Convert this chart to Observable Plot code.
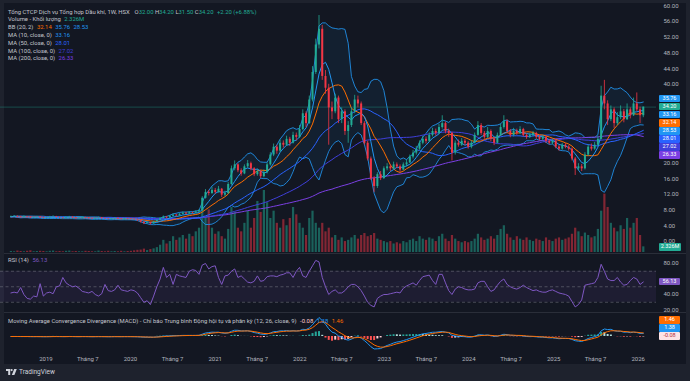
<!DOCTYPE html>
<html><head><meta charset="utf-8">
<script src="https://cdn.jsdelivr.net/npm/d3@7"></script>
<script src="https://cdn.jsdelivr.net/npm/@observablehq/plot@0.6"></script>
<style>
html,body{margin:0;padding:0;background:#1e222d;width:690px;height:381px;overflow:hidden}
#wrap{position:relative;width:690px;height:381px;font-family:Roboto,"DejaVu Sans",sans-serif}
#frame{position:absolute;left:4px;top:3px;width:682px;height:361px;background:#131722}
.layer{position:absolute;left:0}
.layer svg{display:block;overflow:visible}
.lg{position:absolute;left:8px;font-size:5.9px;line-height:8px;height:8px;color:#c3c6ce;white-space:nowrap}
.lg .v{margin-left:3.5px}
.box{position:absolute;left:659px;width:21px;height:7.6px;font-size:5.5px;line-height:7.6px;text-align:center;color:#fff;border-radius:1px}
.sep{position:absolute;left:4px;width:682px;height:1px;background:#2a2e39}
#foot{position:absolute;left:6px;top:368px;font-size:6.5px;color:#d1d4dc;display:flex;align-items:center;gap:2px}
</style></head>
<body><div id="wrap"><div id="frame"></div></div>
<script>
// ---------- data (biweekly candles) ----------
const startDate = "2018-08-03";
const stepDays = 14;
const closes = [6.3,6.4,6.2,6.1,6.3,6.2,6.0,6.1,6.2,6.0,
5.9,6.0,6.2,6.3,6.1,6.0,5.9,6.1,6.2,6.0,
5.8,5.9,6.1,6.0,5.8,5.7,5.9,6.0,5.8,5.7,
5.6,5.8,5.9,5.7,5.6,5.8,5.7,5.6,5.5,5.3,
4.9,4.6,4.8,4.5,5.0,5.4,5.8,6.2,6.0,6.4,
6.7,6.5,6.9,7.2,7.0,7.3,7.2,7.5,7.8,11.0,
12.5,12.2,13.0,12.5,13.3,11.8,12.2,14.5,18.5,19.5,
18.0,17.2,19.0,19.8,18.5,17.0,17.8,16.5,17.5,19.5,
22.0,24.0,23.0,25.0,24.5,26.0,25.0,27.0,26.5,28.5,
32.5,30.0,36.0,43.0,50.0,54.0,42.0,39.0,34.0,33.0,
36.5,31.0,33.0,28.0,29.5,33.0,36.0,35.0,30.0,25.0,
21.0,16.0,14.0,17.0,16.0,18.5,19.0,18.5,19.5,19.0,
18.2,19.5,20.0,21.5,22.5,23.5,25.0,26.0,25.5,27.0,
28.0,27.5,29.0,30.0,28.0,27.5,22.5,25.0,24.5,25.5,
25.0,24.0,25.0,27.0,29.5,27.5,26.5,28.0,26.0,25.0,
27.0,29.0,30.5,28.0,27.0,28.0,27.5,28.5,27.0,26.5,
27.0,27.5,26.5,26.0,26.5,25.5,25.0,25.5,24.0,23.5,
24.5,24.0,23.5,21.0,18.5,19.0,18.5,22.0,24.0,23.5,
24.5,26.0,37.0,35.0,31.0,33.5,30.0,31.5,33.0,31.0,
33.5,32.0,35.0,33.5,32.0,34.2];
const opens = [6.2,6.3,6.4,6.2,6.1,6.3,6.2,6.0,6.1,6.2,
6.0,5.9,6.0,6.2,6.3,6.1,6.0,5.9,6.1,6.2,
6.0,5.8,5.9,6.1,6.0,5.8,5.7,5.9,6.0,5.8,
5.7,5.6,5.8,5.9,5.7,5.6,5.8,5.7,5.6,5.5,
5.3,4.9,4.6,4.8,4.5,5.0,5.4,5.8,6.2,6.0,
6.4,6.7,6.5,6.9,7.2,7.0,7.3,7.2,7.5,7.8,
11.0,12.5,12.2,13.0,12.5,13.3,11.8,12.2,14.5,18.5,
19.5,18.0,17.2,19.0,19.8,18.5,17.0,17.8,16.5,17.5,
19.5,22.0,24.0,23.0,25.0,24.5,26.0,25.0,27.0,26.5,
28.5,32.5,30.0,36.0,43.0,50.0,54.0,42.0,39.0,34.0,
33.0,36.5,31.0,33.0,28.0,29.5,33.0,36.0,35.0,30.0,
25.0,21.0,16.0,14.0,17.0,16.0,18.5,19.0,18.5,19.5,
19.0,18.2,19.5,20.0,21.5,22.5,23.5,25.0,26.0,25.5,
27.0,28.0,27.5,29.0,30.0,28.0,27.5,22.5,25.0,24.5,
25.5,25.0,24.0,25.0,27.0,29.5,27.5,26.5,28.0,26.0,
25.0,27.0,29.0,30.5,28.0,27.0,28.0,27.5,28.5,27.0,
26.5,27.0,27.5,26.5,26.0,26.5,25.5,25.0,25.5,24.0,
23.5,24.5,24.0,23.5,21.0,18.5,19.0,18.5,22.0,24.0,
23.5,24.5,26.0,37.0,35.0,31.0,33.5,30.0,31.5,33.0,
31.0,33.5,32.0,35.0,33.5,32.0];
const highs = [6.5,6.6,6.5,6.4,6.5,6.4,6.3,6.3,6.4,6.3,
6.1,6.2,6.4,6.5,6.4,6.2,6.1,6.3,6.4,6.3,
6.1,6.0,6.3,6.2,6.1,5.9,6.0,6.2,6.1,5.9,
5.8,5.9,6.1,6.0,5.8,5.9,5.9,5.8,5.7,5.6,
5.4,5.0,5.0,4.9,5.1,5.6,6.0,6.5,6.4,6.6,
7.0,6.9,7.1,7.5,7.4,7.6,7.5,7.8,8.1,11.4,
13.2,13.0,13.8,13.5,14.0,13.5,12.8,15.0,19.2,20.5,
19.8,18.5,19.5,20.6,20.2,18.8,18.4,18.0,18.2,20.0,
22.6,24.8,24.5,25.8,25.6,26.8,26.5,27.8,27.6,29.5,
33.5,33.0,37.0,44.5,51.5,57.5,55.0,43.5,40.0,35.5,
37.5,37.0,34.0,33.5,30.5,34.0,37.2,37.0,35.5,30.5,
25.5,21.5,16.5,17.5,17.8,19.0,19.8,19.5,20.2,20.0,
19.5,20.0,20.8,22.0,23.2,24.2,25.6,26.8,26.6,27.6,
28.8,28.6,29.8,32.0,30.4,28.6,27.8,25.6,25.8,26.2,
26.0,25.4,25.6,27.6,30.5,30.0,28.0,29.0,28.4,26.4,
27.6,29.8,32.0,31.0,28.5,28.8,28.6,29.2,28.8,27.4,
27.6,28.0,27.8,26.9,27.0,26.8,25.9,26.0,25.8,24.4,
25.0,24.9,24.4,23.8,21.4,19.8,19.6,22.6,24.6,24.8,
25.2,26.8,39.5,41.0,35.8,34.5,34.0,32.8,34.5,33.6,
35.0,34.0,36.5,37.8,34.2,34.2];
const lows = [6.1,6.2,6.1,6.0,6.0,6.0,5.9,5.9,6.0,5.9,
5.8,5.8,5.9,6.1,6.0,5.9,5.8,5.8,6.0,5.9,
5.7,5.7,5.8,5.9,5.7,5.6,5.6,5.8,5.7,5.6,
5.5,5.5,5.7,5.6,5.5,5.5,5.6,5.5,5.4,5.1,
4.7,4.3,4.5,4.2,4.4,4.9,5.3,5.7,5.8,5.9,
6.3,6.3,6.4,6.8,6.8,6.9,7.0,7.1,7.4,7.7,
10.8,11.6,12.0,12.0,12.3,11.2,11.4,12.0,14.3,18.0,
17.5,16.6,17.0,18.6,18.0,16.5,16.6,16.0,16.2,17.2,
19.2,21.6,22.2,22.6,23.8,24.2,24.2,24.8,25.6,26.2,
28.2,29.0,29.8,35.5,42.5,49.0,41.0,37.5,24.5,31.0,
32.5,30.0,30.0,27.0,25.0,29.0,32.5,34.0,29.5,24.5,
20.5,15.5,12.5,13.5,15.5,15.8,18.0,17.8,18.2,18.5,
17.6,18.0,19.0,19.8,21.0,22.0,23.2,24.6,24.8,25.2,
26.6,26.8,27.2,28.6,27.4,26.5,20.5,22.0,24.0,24.2,
24.4,23.5,23.6,24.8,26.8,27.0,26.0,26.2,25.4,24.4,
24.8,26.8,28.6,27.5,26.4,26.6,27.0,27.2,26.6,26.0,
26.2,26.6,26.0,25.6,25.6,25.0,24.6,24.6,23.6,23.0,
23.2,23.6,23.0,20.5,16.8,18.0,17.8,18.2,21.6,23.0,
23.2,24.2,25.8,33.5,29.5,30.5,28.8,29.5,31.0,30.2,
30.8,31.2,31.8,33.0,30.0,31.5];
const volumes = [0.4,0.3,0.6,0.4,0.3,0.5,0.7,0.3,0.4,0.5,
0.4,0.3,0.5,0.6,0.3,0.4,0.3,0.5,0.6,0.3,
0.4,0.3,0.3,0.5,0.4,0.3,0.3,0.6,0.4,0.3,
0.5,0.3,0.4,0.3,0.5,0.3,0.4,0.5,0.7,0.9,
1.0,1.4,0.8,1.2,1.5,2.0,3.0,5.0,3.5,4.5,
6.5,5.0,6.0,7.0,5.5,7.5,6.5,8.5,10.0,18.5,
14.5,17.5,10.0,7.5,8.5,6.5,5.5,9.5,18.5,16.5,
10.0,8.5,12.0,17.0,10.0,14.0,21.0,16.5,25.5,20.5,
14.0,17.0,12.0,10.0,13.5,11.0,14.0,18.5,15.5,12.0,
10.0,7.0,14.0,17.0,12.0,10.0,12.0,8.5,10.0,6.0,
7.0,5.0,6.0,4.5,5.0,6.0,7.0,5.5,7.0,7.8,
6.5,7.0,7.8,5.5,5.0,4.5,4.0,4.5,3.5,4.0,
3.5,4.5,4.0,5.0,5.5,4.5,6.5,5.5,5.0,6.0,
5.5,4.5,6.5,7.5,5.5,4.5,7.0,5.5,4.5,4.0,
4.5,4.0,4.5,5.5,7.5,6.0,5.0,5.5,6.5,5.5,
7.0,9.5,11.0,7.5,6.0,5.0,6.5,5.5,5.0,6.0,
5.0,4.5,5.5,5.0,4.5,6.0,5.0,4.5,5.5,6.0,
5.0,5.5,6.0,7.5,10.0,8.5,6.5,8.0,7.0,6.0,
6.5,9.5,17.0,24.0,18.5,12.0,10.0,8.5,11.0,9.5,
14.0,10.0,12.0,14.0,7.0,2.326];
const rsiValues = [42,43,42,49,40,35,34,38,37,54,
38,42,43,41,50,51,62,55,52,50,
51,48,44,43,42,44,40,38,41,53,
45,44,46,52,46,45,44,46,45,42,
36,30,32,27,38,50,60,75,62,66,
53,66,64,63,62,70,72,71,66,78,
80,73,76,77,62,53,64,65,70,73,
62,64,60,56,55,57,64,57,58,63,
64,64,63,65,66,68,68,62,70,75,
64,62,70,77,84,82,62,50,40,44,
46,42,42,45,50,53,53,50,45,38,
30,26,24,35,38,40,40,41,42,43,
42,48,51,53,55,52,58,63,64,65,
58,53,66,66,55,45,40,47,50,49,
47,46,46,47,55,57,57,50,44,46,
52,57,60,53,50,48,47,49,52,49,
47,45,46,44,43,43,45,46,44,42,
41,40,38,31,24,27,33,52,53,54,
55,62,79,70,60,58,58,62,56,52,
53,58,62,60,53,56.13];

// legend / last values as shown
const titleText = "Tổng CTCP Dịch vụ Tổng hợp Dầu khí, 1W, HSX";
const volumeLabel = "Volume - Khối lượng";
const bbLabel = "BB (20, 2)";
const bbValues = [32.14, 35.76, 28.53];          // basis, upper, lower
const maLabels = ["MA (10, close, 0)", "MA (50, close, 0)", "MA (100, close, 0)", "MA (200, close, 0)"];
const maPeriods = [10, 50, 100, 200];
const maValues = [33.16, 28.01, 27.02, 26.33];
const rsiLabel = "RSI (14)";
const macdLabel = "Moving Average Convergence Divergence (MACD) - Chỉ báo Trung bình Động hội tụ và phân kỳ (12, 26, close, 9)";
const macdValues = [-0.08, 1.38, 1.46];            // histogram, macd, signal
const priceTicks = [0,4,8,12,16,20,40,44,48,52,56,60];   // 24–36 sit under the value boxes
const rsiTicks = [20,40,80];                              // 60 sits under the RSI box
const xTickDates = ["2019-01-01","2019-07-01","2020-01-01","2020-07-01","2021-01-01","2021-07-01","2022-01-01","2022-07-01","2023-01-01","2023-07-01","2024-01-01","2024-07-01","2025-01-01","2025-07-01","2026-01-01"];
const xTickLabels = ["2019","Tháng 7","2020","Tháng 7","2021","Tháng 7","2022","Tháng 7","2023","Tháng 7","2024","Tháng 7","2025","Tháng 7","2026"];

// ---------- colours ----------
const UP="#22ab94", DN="#f23645", BBC="#2196f3", BASIS="#ff6d00";
const MACOL=["#2196f3","#2962ff","#3f3fdb","#7b3fe4"];
const RSIC="#7e57c2", MACDC="#2196f3", SIGC="#ff6d00";

// ---------- derived table ----------
const DAY=864e5, t0=Date.parse(startDate+"T00:00:00Z");
const weeksPerCandle = stepDays/7;
const win=(a,n,f)=>a.map((_,i)=>f(a.slice(Math.max(0,i-n+1),i+1)));
const mean=s=>d3.mean(s);
const sdev=s=>{const m=d3.mean(s);return Math.sqrt(d3.mean(s,v=>(v-m)**2));};
const bbN=Math.round(20/weeksPerCandle);
const basis=win(closes,bbN,mean), dev=win(closes,bbN,sdev);
const mas=maPeriods.map(p=>win(closes,Math.round(p/weeksPerCandle),mean));
const ema=(a,p)=>{const al=1-(1-2/(p+1))**weeksPerCandle;let e=a[0];return a.map(v=>e=e+al*(v-e));};
const ef=ema(closes,12), es=ema(closes,26);
const macd=closes.map((_,i)=>ef[i]-es[i]);
const sig=ema(macd,9);
const rows=closes.map((c,i)=>{
  const h=macd[i]-sig[i], hp=i?macd[i-1]-sig[i-1]:h;
  return {date:new Date(t0+i*stepDays*DAY),open:opens[i],high:highs[i],low:lows[i],close:c,
    col:c>=opens[i]?UP:DN,vol:volumes[i],rsi:rsiValues[i],
    bbM:basis[i],bbU:basis[i]+2*dev[i],bbL:basis[i]-2*dev[i],
    ma0:mas[0][i],ma1:mas[1][i],ma2:mas[2][i],ma3:mas[3][i],
    macd:macd[i],sig:sig[i],hist:h,
    hcol:h>=0?(h>=hp?"#26a69a":"#b2dfdb"):(h<hp?"#ff5252":"#ffcdd2")};
});
const last=rows[rows.length-1];

// ---------- layout ----------
const W=690, MR=34;
const xDomain=[new Date(Date.UTC(2018,5,19)), new Date(Date.UTC(2026,2,21))];
const style={background:"transparent",color:"#b2b5be",fontSize:"6px",fontFamily:"Roboto, sans-serif",overflow:"visible"};
const wrap=document.getElementById("wrap");
function layer(top,node){const d=document.createElement("div");d.className="layer";d.style.top=top+"px";d.appendChild(node);wrap.appendChild(d);}
function div(cls,top,html,extra){const d=document.createElement("div");d.className=cls;d.style.top=top+"px";d.innerHTML=html;if(extra)Object.assign(d.style,extra);wrap.appendChild(d);return d;}

// volume overlay
const volPlot=Plot.plot({width:W,height:253,marginLeft:0,marginRight:MR,marginTop:190,marginBottom:1,
  x:{type:"utc",domain:xDomain,axis:null},y:{domain:[0,25.5],axis:null},color:{type:"identity"},style,
  marks:[Plot.ruleX(rows,{x:"date",y1:0,y2:"vol",stroke:"col",strokeOpacity:0.5,strokeWidth:2.2})]});
layer(0,volPlot);

// price pane
const main=Plot.plot({width:W,height:253,marginLeft:0,marginRight:MR,marginTop:5.2,marginBottom:12,
  x:{type:"utc",domain:xDomain,axis:null},y:{domain:[0,60]},color:{type:"identity"},style,
  marks:[
    Plot.axisY({anchor:"right",ticks:priceTicks,tickSize:0,tickPadding:7,tickFormat:d=>d.toFixed(2),label:null}),
    Plot.areaY(rows,{x:"date",y1:"bbL",y2:"bbU",fill:BBC,fillOpacity:0.07}),
    Plot.line(rows,{x:"date",y:"bbU",stroke:BBC,strokeOpacity:0.85,strokeWidth:1}),
    Plot.line(rows,{x:"date",y:"bbL",stroke:BBC,strokeOpacity:0.85,strokeWidth:1}),
    Plot.line(rows,{x:"date",y:"ma3",stroke:MACOL[3],strokeWidth:1}),
    Plot.line(rows,{x:"date",y:"ma2",stroke:MACOL[2],strokeWidth:1}),
    Plot.line(rows,{x:"date",y:"ma1",stroke:MACOL[1],strokeWidth:1}),
    Plot.line(rows,{x:"date",y:"bbM",stroke:BASIS,strokeWidth:1}),
    Plot.line(rows,{x:"date",y:"ma0",stroke:MACOL[0],strokeWidth:1}),
    Plot.ruleY([last.close],{stroke:UP,strokeOpacity:0.45,strokeWidth:0.8}),
    Plot.ruleX(rows,{x:"date",y1:"low",y2:"high",stroke:"col",strokeWidth:0.8}),
    Plot.ruleX(rows,{x:"date",y1:"open",y2:"close",stroke:"col",strokeWidth:2})
  ]});
layer(0,main);

// RSI pane
const rsiPlot=Plot.plot({width:W,height:59,marginLeft:0,marginRight:MR,marginTop:0,marginBottom:0,
  x:{type:"utc",domain:xDomain,axis:null},y:{domain:[16.8,92.9]},style,
  marks:[
    Plot.rect([0],{x1:()=>xDomain[0],x2:()=>xDomain[1],y1:()=>30,y2:()=>70,fill:RSIC,fillOpacity:0.1}),
    Plot.ruleY([30,50,70],{stroke:"#787b86",strokeOpacity:0.75,strokeDasharray:"3,2.5",strokeWidth:0.7}),
    Plot.line(rows,{x:"date",y:"rsi",stroke:RSIC,strokeWidth:1}),
    Plot.axisY({anchor:"right",ticks:rsiTicks,tickSize:0,tickPadding:7,tickFormat:d=>d.toFixed(2),label:null})
  ]});
layer(253,rsiPlot);

// MACD pane + time axis
const mmax=d3.max(macd), k=mmax/19;
const labelMap=new Map(xTickDates.map((d,i)=>[Date.parse(d+"T00:00:00Z"),xTickLabels[i]]));
const macdPlot=Plot.plot({width:W,height:54,marginLeft:0,marginRight:MR,marginTop:0,marginBottom:14,
  x:{type:"utc",domain:xDomain},y:{domain:[-16*k,24*k],axis:null},color:{type:"identity"},style,
  marks:[
    Plot.ruleX(rows,{x:"date",y1:0,y2:"hist",stroke:"hcol",strokeWidth:2}),
    Plot.line(rows,{x:"date",y:"macd",stroke:MACDC,strokeWidth:1}),
    Plot.line(rows,{x:"date",y:"sig",stroke:SIGC,strokeWidth:1}),
    Plot.axisX({anchor:"bottom",ticks:xTickDates.map(d=>new Date(d+"T00:00:00Z")),tickSize:0,tickPadding:4,
      tickFormat:d=>labelMap.get(+d),label:null})
  ]});
layer(312,macdPlot);

// separators
div("sep",252.5,"");
div("sep",312,"");

// legends
const g=(t,c)=>`<span class="v" style="color:${c}">${t}</span>`;
const f2=v=>v.toFixed(2);
const chg=last.close-last.open, pct=chg/last.open*100;
div("lg",7.5,`${titleText} <span class="v">O</span><span style="color:${UP}">${f2(last.open)}</span> <span>H</span><span style="color:${UP}">${f2(last.high)}</span> <span>L</span><span style="color:${UP}">${f2(last.low)}</span> <span>C</span><span style="color:${UP}">${f2(last.close)}</span>${g((chg>=0?"+":"")+f2(chg)+" ("+(pct>=0?"+":"")+f2(pct)+"%)",UP)}`);
div("lg",15.3,`${volumeLabel}${g(last.vol.toFixed(3)+"M",UP)}`);
div("lg",23.2,`${bbLabel}${g(f2(bbValues[0]),BASIS)}${g(f2(bbValues[1]),BBC)}${g(f2(bbValues[2]),BBC)}`);
maLabels.forEach((l,i)=>div("lg",31+i*7.8,`${l}${g(f2(maValues[i]),MACOL[i])}`));
div("lg",256,`${rsiLabel}${g(f2(last.rsi),RSIC)}`);
div("lg",316.7,`${macdLabel}${g(f2(macdValues[0]),"#ffcdd2")}${g(f2(macdValues[1]),MACDC)}${g(f2(macdValues[2]),SIGC)}`);

// right-side value boxes (stacked like the price scale does)
const ys=main.scale("y");
const mainBoxes=[[bbValues[1],BBC],[last.close,UP],[maValues[0],MACOL[0]],[bbValues[0],BASIS],
  [bbValues[2],BBC],[maValues[1],MACOL[1]],[maValues[2],MACOL[2]],[maValues[3],MACOL[3]]];
let prev=-1e9;
mainBoxes.forEach(([v,c],i)=>{let y=ys.apply(v);if(i===0)y-=2;y=Math.max(y,prev+8.1);prev=y;
  div("box",y-3.8,f2(v),{background:c});});
const vy=Math.max(volPlot.scale("y").apply(last.vol), ys.apply(0)+6.2);
div("box",vy-3.8,last.vol.toFixed(3)+"M",{background:UP,width:"22px"});
div("box",253+rsiPlot.scale("y").apply(last.rsi)-3.8,f2(last.rsi),{background:RSIC});
const my=macdPlot.scale("y");
let yb=312+my.apply(macdValues[0]);
const y1=Math.min(312+my.apply(macdValues[1]),yb-8.1), y2=Math.min(312+my.apply(macdValues[2]),y1-8.1);
div("box",y2-3.8,f2(macdValues[2]),{background:SIGC});
div("box",y1-3.8,f2(macdValues[1]),{background:MACDC});
div("box",yb-3.8,f2(macdValues[0]),{background:"#fde3e6",color:"#b4303d"});

// footer
const foot=document.createElement("div");foot.id="foot";
foot.innerHTML=`<svg width="11" height="6" viewBox="0 0 11 6"><path d="M0 0h4.2v6h-2v-4h-2.2z" fill="#d1d4dc"/><circle cx="5.6" cy="1.1" r="1.1" fill="#d1d4dc"/><path d="M8.2 0h2.6l-2.4 6h-2.6z" fill="#d1d4dc"/></svg><span>TradingView</span>`;
wrap.appendChild(foot);
</script></body></html>
